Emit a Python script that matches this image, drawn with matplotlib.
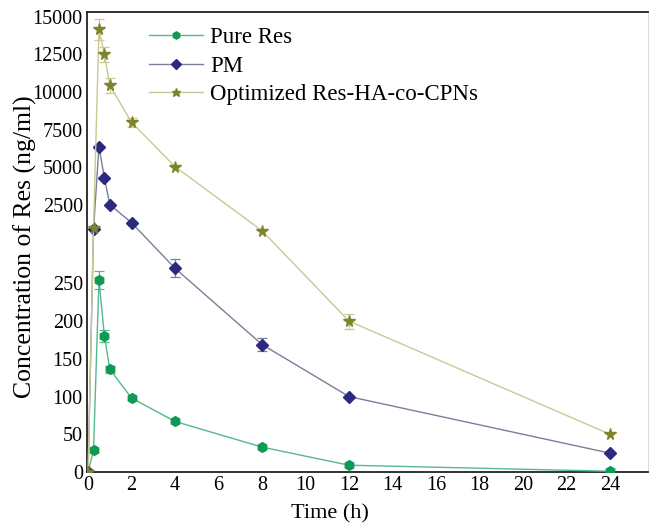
import numpy as np
import matplotlib
matplotlib.use("Agg")
import matplotlib.pyplot as plt

plt.rcParams['font.family'] = ['Liberation Serif', 'DejaVu Serif']

# sampling times (h)
time_h = [0, 0.25, 0.5, 0.75, 1, 2, 4, 8, 12, 24]

pure_res = [0, 29, 255, 180, 136, 98, 67, 33, 9, 1]
pure_res_err = [0, 0, 12, 8, 5, 0, 0, 0, 0, 0]

pm = [0, 900, 6380, 4300, 2530, 1330, 270, 169, 100, 25]
pm_err = [0, 0, 0, 0, 0, 0, 12, 8, 0, 0]

cpns = [0, 1000, 14160, 12500, 10440, 7980, 5050, 800, 200, 50]
cpns_err = [0, 0, 700, 500, 500, 300, 0, 0, 10, 0]

x_ticks = list(range(0, 25, 2))
y_ticks = [0, 50, 100, 150, 200, 250, 2500, 5000, 7500, 10000, 12500, 15000]

# piecewise y scale: lower part 0-310 stretched, upper part compressed
brk = 310.0
ratio = 0.02


def fwd(v):
    v = np.asarray(v, dtype=float)
    return np.where(v <= brk, v, brk + (v - brk) * ratio)


def inv(d):
    d = np.asarray(d, dtype=float)
    return np.where(d <= brk, d, brk + (d - brk) / ratio)


fig = plt.figure(figsize=(6.51, 5.28), dpi=100)
ax = fig.add_axes([87 / 651, 56 / 528, 561 / 651, 460 / 528])
ax.set_yscale('function', functions=(fwd, inv))

series = [
    (pure_res, pure_res_err, 'Pure Res', 'h', '#0e9a52', '#55b890', 7),
    (pm, pm_err, 'PM', 'D', '#2c2a80', '#7c7c9c', 6.2),
    (cpns, cpns_err, 'Optimized Res-HA-co-CPNs', '*', '#7f842b', '#c9c994', 8.5),
]
for vals, errs, name, mk, mcol, lcol, ms in series:
    ax.plot(time_h, vals, color=lcol, lw=1.0, marker=mk, markersize=ms,
            markerfacecolor=mcol, markeredgecolor=mcol, label=name, zorder=3)
    e = np.array(errs, dtype=float)
    m = e > 0
    ax.errorbar(np.array(time_h)[m], np.array(vals)[m], yerr=e[m], fmt='none',
                ecolor=lcol, elinewidth=0.9, capsize=3.5, capthick=0.9, zorder=2)

ax.set_xlim(-0.05, 25.75)
ax.set_ylim(0, 15300)
ax.set_xticks(x_ticks)
ax.set_yticks(y_ticks)
ax.set_yticklabels([str(t) for t in y_ticks])
ax.tick_params(length=0, labelsize=14.5, pad=3)
for s in ax.spines.values():
    s.set_linewidth(1.3)
    s.set_color('#222222')
ax.spines['right'].set_color('#dddddd')
ax.spines['right'].set_linewidth(0.8)

ax.set_xlabel('Time (h)', fontsize=16)
ax.set_ylabel('Concentration of Res (ng/ml)', fontsize=18.5)
ax.xaxis.set_label_coords(0.433, -0.07)
ax.yaxis.set_label_coords(-0.089, 0.49)

ax.legend(loc='upper left', bbox_to_anchor=(0.074, 1.012), frameon=False,
          fontsize=16.5, handlelength=2.35, handletextpad=0.3, labelspacing=0.33,
          markerscale=0.75)

fig.savefig('out.png', dpi=100)
